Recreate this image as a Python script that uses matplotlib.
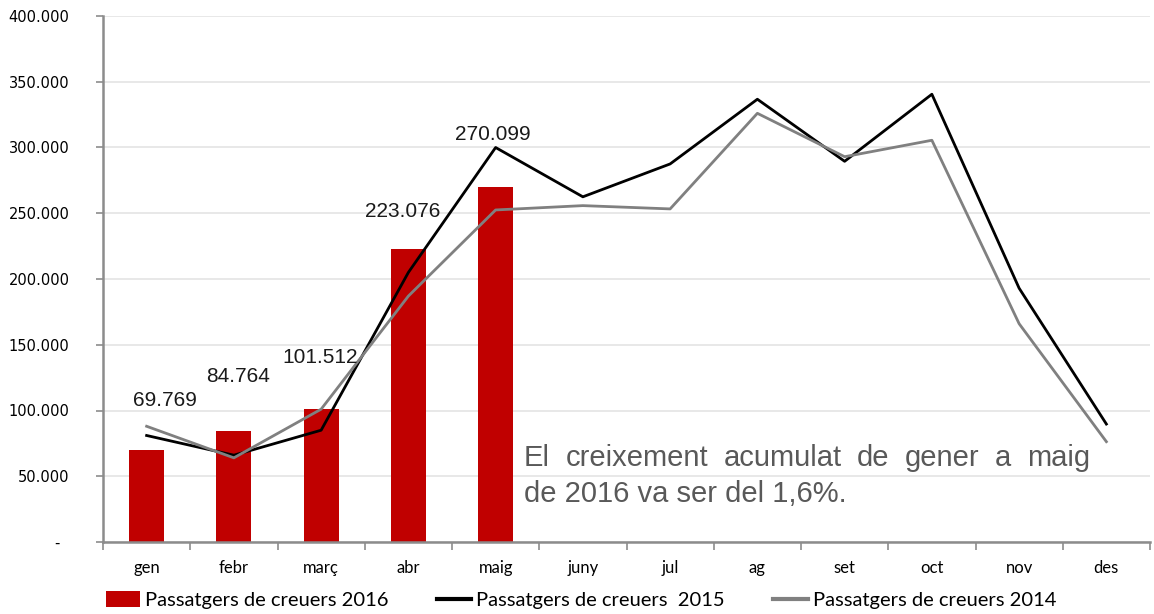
import matplotlib
matplotlib.use("Agg")
import matplotlib.pyplot as plt
from matplotlib.lines import Line2D
from matplotlib.patches import Patch
from matplotlib.ticker import FixedLocator, FuncFormatter


MONTHS = ["gen", "febr", "març", "abr", "maig", "juny", "jul", "ag", "set", "oct", "nov", "des"]
PAX_2016 = [69769, 84764, 101512, 223076, 270099]
PAX_2015 = [81000, 66000, 85000, 205000, 300000, 262500, 287500, 336700, 289500, 340500, 193000, 89700]
PAX_2014 = [88000, 64000, 101000, 187000, 252500, 255800, 253300, 326000, 293000, 305500, 166000, 76300]
SERIES_LABELS = ["Passatgers de creuers 2016", "Passatgers de creuers  2015", "Passatgers de creuers 2014"]
NOTE_LINE_1 = "El creixement acumulat de gener a maig"
NOTE_LINE_2 = "de 2016 va ser del 1,6%."

# layout only: where each bar value label sits relative to its bar top
LABEL_OFFSETS = [(0.21, 38000), (0.05, 41000), (-0.01, 39000), (-0.06, 28000), (-0.03, 39500)]

BAR_COLOR = "#c00000"
LINE_2015 = "#000000"
LINE_2014 = "#808080"
AXIS_COLOR = "#8c8c8c"
GRID_COLOR = "#e6e6e6"
NOTE_COLOR = "#595959"
W, H = 1154, 614

plt.rcParams["font.family"] = ["Liberation Sans", "DejaVu Sans"]


def thousands(v, pos=None):
    if v == 0:
        return "-  "
    return f"{int(v):,}".replace(",", ".")


def draw_justified(fig, text, x0, x1, baseline, **kw):
    # spread words so the line fills x0..x1 (pixel coords from top-left)
    renderer = fig.canvas.get_renderer()
    words = text.split()
    items = [fig.text(0, 0, w, va="baseline", ha="left", **kw) for w in words]
    widths = [t.get_window_extent(renderer).width for t in items]
    gap = (x1 - x0 - sum(widths)) / (len(words) - 1)
    x = x0
    for t, w in zip(items, widths):
        t.set_position((x / W, 1 - baseline / H))
        x += w + gap


fig = plt.figure(figsize=(W / 100, H / 100), dpi=100)
ax = fig.add_axes([103 / W, 1 - 542 / H, 1047 / W, 526 / H])

x_all = list(range(len(MONTHS)))
x_2016 = x_all[:len(PAX_2016)]

ax.bar(x_2016, PAX_2016, width=0.4, color=BAR_COLOR, zorder=2)
ax.plot(x_all, PAX_2015, color=LINE_2015, linewidth=2.0, zorder=3)
ax.plot(x_all, PAX_2014, color=LINE_2014, linewidth=2.0, zorder=4)

for xi, val, (dx, dy) in zip(x_2016, PAX_2016, LABEL_OFFSETS):
    ax.text(xi + dx, val + dy, thousands(val), ha="center", va="center",
            fontsize=15, color="#1a1a1a", zorder=5)

ax.set_xlim(-0.5, len(MONTHS) - 0.5)
ax.set_ylim(0, 400000)
ax.yaxis.set_major_locator(FixedLocator(range(0, 400001, 50000)))
ax.yaxis.set_major_formatter(FuncFormatter(thousands))
ax.grid(axis="y", color=GRID_COLOR, linewidth=1.3, zorder=0)
ax.set_axisbelow(True)

ax.set_xticks(x_all)
ax.set_xticklabels(MONTHS, fontfamily="Lato", fontsize=12)
ax.set_xticks([i - 0.5 for i in range(len(MONTHS) + 1)], minor=True)
ax.tick_params(axis="x", which="major", length=0, pad=13)
ax.tick_params(axis="x", which="minor", length=6, width=1.2, color=AXIS_COLOR)
ax.tick_params(axis="y", length=5, width=1.2, color=AXIS_COLOR, pad=19)
for lbl in ax.get_yticklabels():
    lbl.set_fontfamily("DejaVu Sans")
    lbl.set_fontsize(10.5)

for side in ["top", "right"]:
    ax.spines[side].set_visible(False)
for side in ["left", "bottom"]:
    ax.spines[side].set_color(AXIS_COLOR)
    ax.spines[side].set_linewidth(1.8)

handles = [
    Patch(facecolor=BAR_COLOR, edgecolor="none"),
    Line2D([], [], color=LINE_2015, linewidth=3),
    Line2D([], [], color=LINE_2014, linewidth=3),
]
fig.legend(handles, SERIES_LABELS, loc="lower left", bbox_to_anchor=(101 / W, 0.0),
           ncol=3, frameon=False, prop={"family": "Lato", "size": 14.5},
           handlelength=1.7, handleheight=0.8, handletextpad=0.25,
           columnspacing=2.4, borderpad=0.0, borderaxespad=0.25)

fig.canvas.draw()
draw_justified(fig, NOTE_LINE_1, 524, 1090, 466, fontsize=21, color=NOTE_COLOR)
fig.text(524 / W, 1 - 502 / H, NOTE_LINE_2, va="baseline", ha="left",
         fontsize=21, color=NOTE_COLOR)

fig.savefig("out.png", dpi=100)
plt.close(fig)
